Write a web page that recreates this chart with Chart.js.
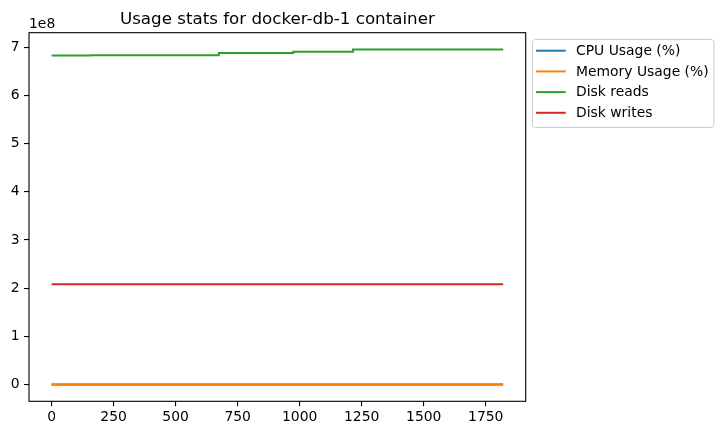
<!DOCTYPE html>
<html>
<head>
<meta charset="utf-8">
<script src="https://cdn.jsdelivr.net/npm/chart.js@4"></script>
<style>
html,body{margin:0;padding:0;background:#fff;}
#wrap{width:724px;height:435px;position:relative;}
</style>
</head>
<body>
<div id="wrap"><canvas id="c" width="724" height="435"></canvas></div>
<script>
// ---- data ----
const chartTitle = "Usage stats for docker-db-1 container";
const seriesLabels = ["CPU Usage (%)", "Memory Usage (%)", "Disk reads", "Disk writes"];
const sampleIndex = [0, 77, 157, 674, 974, 1215, 1820];
const cpuUsage    = [0.5, 0.5, 0.5, 0.5, 0.5, 0.5, 0.5];
const memoryUsage = [1.2, 1.2, 1.2, 1.2, 1.2, 1.2, 1.2];
const diskReads   = [6.826e8, 6.828e8, 6.830e8, 6.880e8, 6.905e8, 6.952e8, 6.952e8];
const diskWrites  = [2.08e8, 2.08e8, 2.08e8, 2.08e8, 2.08e8, 2.08e8, 2.08e8];
const xTicks = [0, 250, 500, 750, 1000, 1250, 1500, 1750];
const yTicks = [0, 1e8, 2e8, 3e8, 4e8, 5e8, 6e8, 7e8];
const yOffsetLabel = "1e8";
const colors = ["#1f77b4", "#ff7f0e", "#2ca02c", "#d62728"];

const FONT = "'DejaVu Sans', sans-serif";
const seriesValues = [cpuUsage, memoryUsage, diskReads, diskWrites];
const allY = seriesValues.flat();
const yMinD = Math.min(...allY), yMaxD = Math.max(...allY);
const ySpan = yMaxD - yMinD;
const xMinD = Math.min(...sampleIndex), xMaxD = Math.max(...sampleIndex);
const xSpan = xMaxD - xMinD;

const datasets = seriesValues.map((vals, i) => ({
  label: seriesLabels[i],
  data: sampleIndex.map((x, j) => ({x: x, y: vals[j]})),
  borderColor: colors[i],
  backgroundColor: colors[i],
  borderWidth: 2,
  pointRadius: 0,
  stepped: true,
  fill: false,
  tension: 0,
  order: seriesValues.length - i
}));

const decor = {
  id: 'decor',
  afterDraw(chart) {
    const ctx = chart.ctx, a = chart.chartArea;
    ctx.save();
    // frame
    ctx.strokeStyle = '#000';
    ctx.lineWidth = 1.1;
    ctx.strokeRect(a.left, a.top, a.right - a.left, a.bottom - a.top);
    // title
    ctx.fillStyle = '#000';
    ctx.font = "16.7px " + FONT;
    ctx.textAlign = 'center';
    ctx.textBaseline = 'alphabetic';
    ctx.fillText(chartTitle, (a.left + a.right) / 2, 24.3);
    // offset text
    ctx.font = "13.9px " + FONT;
    ctx.textAlign = 'left';
    ctx.fillText(yOffsetLabel, a.left, 27.5);
    // legend
    const lx = 532.5, ly = 39.5, lw = 181.5, lh = 88;
    ctx.beginPath();
    if (ctx.roundRect) ctx.roundRect(lx, ly, lw, lh, 3); else ctx.rect(lx, ly, lw, lh);
    ctx.fillStyle = 'rgba(255,255,255,0.8)';
    ctx.fill();
    ctx.strokeStyle = '#cccccc';
    ctx.lineWidth = 1;
    ctx.stroke();
    chart.data.datasets.forEach((ds, i) => {
      const yy = 50.7 + i * 20.7;
      ctx.beginPath();
      ctx.strokeStyle = ds.borderColor;
      ctx.lineWidth = 2;
      ctx.moveTo(536, yy);
      ctx.lineTo(565.7, yy);
      ctx.stroke();
      ctx.fillStyle = '#000';
      ctx.font = "13.9px " + FONT;
      ctx.textAlign = 'left';
      ctx.textBaseline = 'middle';
      ctx.fillText(ds.label, 576, yy + 0.5);
    });
    ctx.restore();
  }
};

new Chart(document.getElementById('c'), {
  type: 'line',
  data: {datasets},
  options: {
    responsive: false,
    animation: false,
    devicePixelRatio: 1,
    layout: {padding: {left: 0, right: 198.3, top: 32.7, bottom: 0}},
    plugins: {legend: {display: false}, title: {display: false}, tooltip: {enabled: false}},
    scales: {
      x: {
        type: 'linear',
        min: xMinD - 0.05 * xSpan,
        max: xMaxD + 0.05 * xSpan,
        afterBuildTicks: s => { s.ticks = xTicks.map(v => ({value: v})); },
        afterFit: s => { s.height = 33.7; },
        grid: {display: true, drawOnChartArea: false, drawTicks: true, tickLength: 5, color: '#000', lineWidth: 1.1},
        border: {display: false},
        ticks: {color: '#000', font: {family: FONT, size: 13.9}, padding: 3, maxRotation: 0, autoSkip: false,
                callback: v => String(v)}
      },
      y: {
        type: 'linear',
        min: yMinD - 0.05 * ySpan,
        max: yMaxD + 0.05 * ySpan,
        afterBuildTicks: s => { s.ticks = yTicks.map(v => ({value: v})); },
        afterFit: s => { s.width = 29; },
        grid: {display: true, drawOnChartArea: false, drawTicks: true, tickLength: 5, color: '#000', lineWidth: 1.1},
        border: {display: false},
        ticks: {color: '#000', font: {family: FONT, size: 13.9}, padding: 4.5, autoSkip: false,
                callback: v => String(Math.round(v / 1e8))}
      }
    }
  },
  plugins: [decor]
});
</script>
</body>
</html>
